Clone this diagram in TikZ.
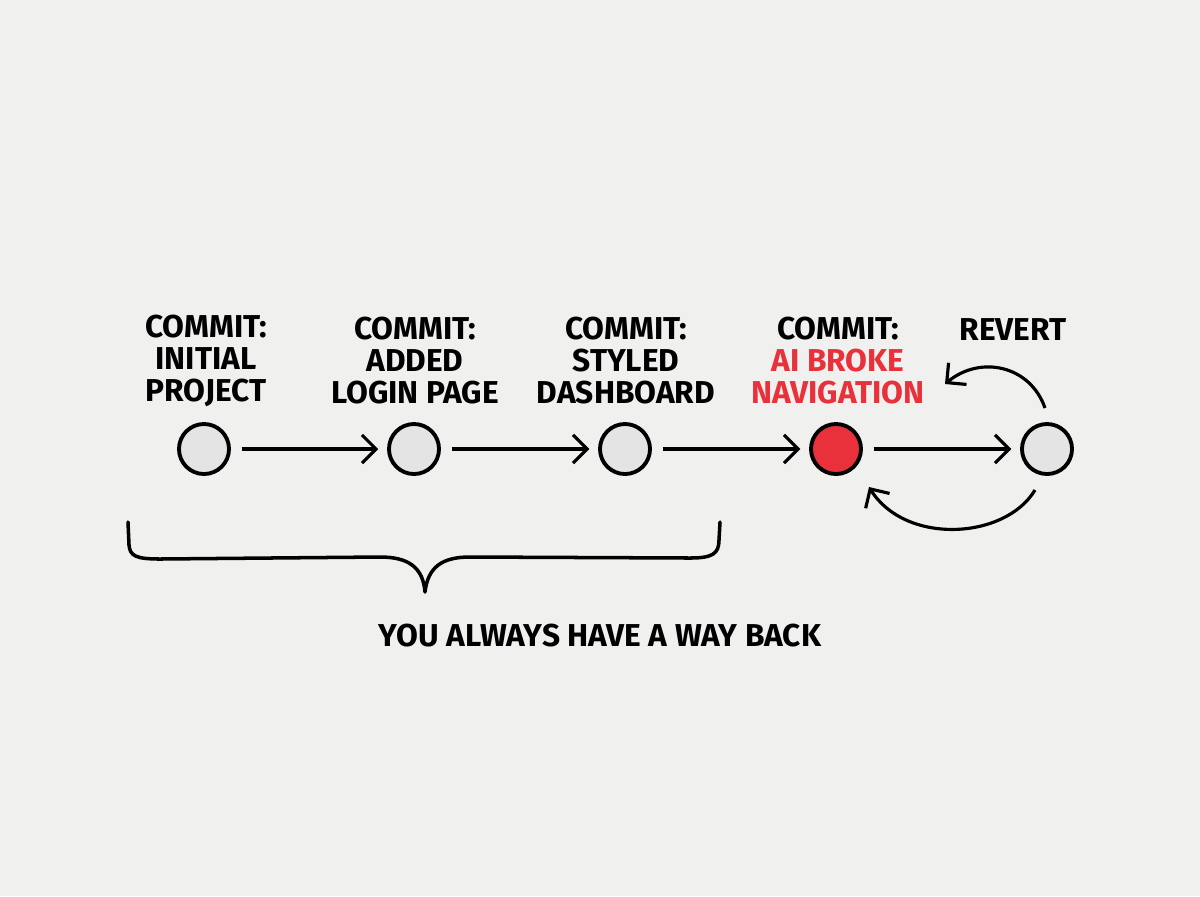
\documentclass[tikz,border=0pt]{standalone}
\usepackage{fontspec}
\setmainfont{Fira Sans}
\usetikzlibrary{arrows.meta}
\definecolor{bgc}{HTML}{F0F0EF}
\definecolor{nodefill}{HTML}{E4E4E4}
\definecolor{redc}{HTML}{E8313A}
\tikzset{
  commit/.style={circle, draw=black, line width=1.1pt, fill=nodefill, minimum size=0.5cm, inner sep=0pt},
  label/.style={align=center, font=\fontsize{9}{9.1}\selectfont\bfseries, text=black, inner sep=0pt},
  arr/.style={line width=0.9pt, -{Straight Barb[length=4pt, width=8pt, line width=0.9pt]}, shorten <=3pt, shorten >=2.5pt},
  curvearr/.style={line width=0.9pt, -{Straight Barb[length=4pt, width=8pt, line width=0.9pt]}},
  brace/.style={line width=1pt, line cap=round, line join=round}
}
\begin{document}
\begin{tikzpicture}[x=0.01cm, y=-0.01cm]
\fill[bgc] (0,0) rectangle (1200,896);
\useasboundingbox (0,0) rectangle (1200,896);

\node[commit] (c1) at (204,449) {};
\node[commit] (c2) at (414,449) {};
\node[commit] (c3) at (625,449) {};
\node[commit, fill=redc] (c4) at (836,449) {};
\node[commit] (c5) at (1047,449) {};

\node[label] (l1) at (206,361) {COMMIT:\\INITIAL\\PROJECT};
\node[label] (l2) at (415,361) {COMMIT:\\ADDED\\LOGIN PAGE};
\node[label] (l3) at (626,361) {COMMIT:\\STYLED\\DASHBOARD};
\node[label] (l4) at (838,361) {COMMIT:\\\textcolor{redc}{AI BROKE}\\\textcolor{redc}{NAVIGATION}};
\node[label] (l5) at (1013,330) {REVERT};

\draw[arr] (c1) -- (c2);
\draw[arr] (c2) -- (c3);
\draw[arr] (c3) -- (c4);
\draw[arr] (c4) -- (c5);

\coordinate (t1) at (1045,408);
\coordinate (t2) at (945,384);
\coordinate (b1) at (1035,490);
\coordinate (b2) at (869,487);
\draw[curvearr] (t1) .. controls (1030,365) and (980,355) .. (t2);
\draw[curvearr] (b1) .. controls (1005,540) and (905,545) .. (b2);

\coordinate (bl) at (128,522);
\coordinate (br) at (720,522);
\coordinate (bt) at (425,592);
\draw[brace] (bl) -- (129,545) .. controls (130,556) and (136,559) .. (160,559)
  -- (380,557) .. controls (408,557) and (423,567) .. (bt)
  .. controls (428,567) and (442,557) .. (470,557)
  -- (690,558) .. controls (712,558) and (719,554) .. (719,540) -- (br);

\node[label] (back) at (600,636) {YOU ALWAYS HAVE A WAY BACK};
\end{tikzpicture}
\end{document}
